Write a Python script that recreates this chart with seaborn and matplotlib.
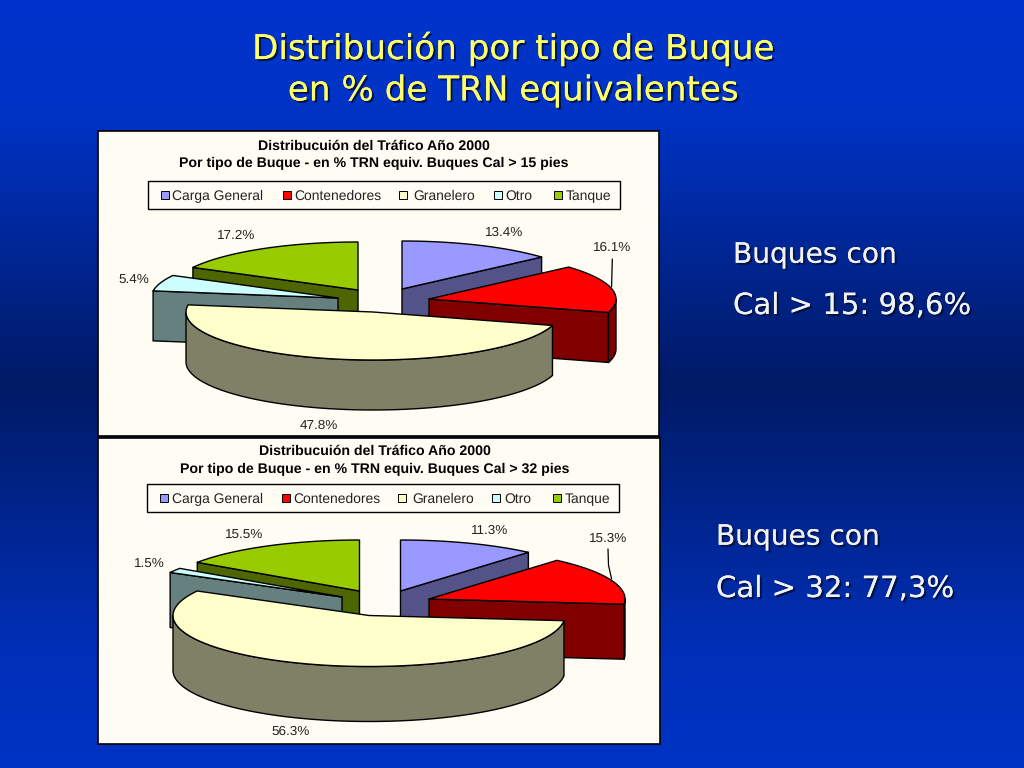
import numpy as np
import matplotlib
matplotlib.use("Agg")
import matplotlib.pyplot as plt
import matplotlib.patheffects as pe
from matplotlib.colors import LinearSegmentedColormap
from matplotlib.patches import Rectangle
import seaborn as sns

# data
categories = ["Carga General", "Contenedores", "Granelero", "Otro", "Tanque"]
values_15 = [13.4, 16.1, 47.8, 5.4, 17.2]
values_32 = [11.3, 15.3, 56.3, 1.5, 15.5]
title_15 = ["Distribucuión del Tráfico Año 2000",
            "Por tipo de Buque - en % TRN equiv. Buques Cal > 15 pies"]
title_32 = ["Distribucuión del Tráfico Año 2000",
            "Por tipo de Buque - en % TRN equiv. Buques Cal > 32 pies"]

# style
sns.set_theme(style="white")
plt.rcParams["font.family"] = ["Liberation Sans", "DejaVu Sans"]
plt.rcParams["text.hinting"] = "no_hinting"
TOP_COLORS = sns.color_palette(["#9999FF", "#FF0000", "#FFFFCC", "#CCFFFF", "#99CC00"])
SIDE_COLORS = sns.color_palette(["#53538A", "#800000", "#808066", "#668080", "#4D6600"])
PANEL_COLOR = "#FFFCF3"
DRAW_ORDER = [4, 0, 3, 1, 2]  # back slices first

fig = plt.figure(figsize=(10.24, 7.68), dpi=100)
ax = fig.add_axes([0, 0, 1, 1])
ax.set_xlim(0, 1024)
ax.set_ylim(768, 0)
ax.axis("off")

# slide background
bg = LinearSegmentedColormap.from_list(
    "slide", [(0, "#0033CC"), (0.15, "#0033C4"), (0.5, "#001A66"),
              (0.85, "#0030B8"), (1, "#0033C4")])
ax.imshow(np.linspace(0, 1, 256).reshape(-1, 1), cmap=bg, aspect="auto",
          extent=(0, 1024, 768, 0), zorder=0)


def arc(cx, cy, rx, ry, t1, t2, n=80):
    t = np.radians(np.linspace(t1, t2, n))
    return cx + rx * np.sin(t), cy - ry * np.cos(t)


def draw_pie(values, apexes, rx, ry, depth):
    # angles run clockwise from 12 o'clock, like the Excel pie
    edges = np.concatenate([[0], np.cumsum(values)]) / np.sum(values) * 360
    kw = dict(edgecolor="black", linewidth=1.0, joinstyle="round", zorder=3)
    for i in DRAW_ORDER:
        t1, t2 = edges[i], edges[i + 1]
        cx, cy = apexes[i]
        side = SIDE_COLORS[i]
        # radial cut faces that look towards the viewer
        for t, visible in ((t1, np.sin(np.radians(t1)) < -1e-6),
                           (t2, np.sin(np.radians(t2)) > 1e-6)):
            if visible:
                ex, ey = arc(cx, cy, rx, ry, t, t, 1)
                ax.fill([cx, ex[0], ex[0], cx], [cy, ey[0], ey[0] + depth, cy + depth],
                        facecolor=side, **kw)
        # outer wall, front half of the rim only
        a, b = max(t1, 90), min(t2, 270)
        if b > a:
            x, y = arc(cx, cy, rx, ry, a, b)
            ax.fill(np.r_[x, x[::-1]], np.r_[y, y[::-1] + depth], facecolor=side, **kw)
        # top
        x, y = arc(cx, cy, rx, ry, t1, t2)
        ax.fill(np.r_[cx, x], np.r_[cy, y], facecolor=TOP_COLORS[i], **kw)


def draw_panel(box, titles, title_y, values, legend_y, legend_box, swatch_x, text_x,
               apexes, rx, ry, depth, label_pos, leader):
    x0, y0, x1, y1 = box
    ax.add_patch(Rectangle((x0, y0), x1 - x0, y1 - y0, facecolor=PANEL_COLOR,
                           edgecolor="black", linewidth=1.2, zorder=1))
    xc = (x0 + x1) / 2 - 4.5
    for txt, y in zip(titles, title_y):
        ax.text(xc, y, txt, ha="center", va="center", fontsize=10.2, fontweight="bold",
                color="black", zorder=5)
    lx0, ly0, lx1, ly1 = legend_box
    ax.add_patch(Rectangle((lx0, ly0), lx1 - lx0, ly1 - ly0, facecolor=PANEL_COLOR,
                           edgecolor="black", linewidth=1.0, zorder=2))
    for name, col, sx, tx in zip(categories, TOP_COLORS, swatch_x, text_x):
        ax.add_patch(Rectangle((sx, legend_y - 4), 8, 8, facecolor=col, edgecolor="black",
                               linewidth=0.7, zorder=3))
        ax.text(tx, legend_y + 5, name, ha="left", va="baseline", fontsize=10, color="#222222", zorder=5)

    draw_pie(values, apexes, rx, ry, depth)
    for v, (px, py) in zip(values, label_pos):
        ax.text(px, py, f"{v:.1f}%", ha="center", va="center", fontsize=9.7,
                color="#222222", zorder=5)
    ax.plot(*leader, color="black", linewidth=0.9, zorder=4)


draw_panel((98, 131, 659, 436), title_15, (146, 163), values_15,
           195, (148, 181, 620, 209),
           (161, 282.5, 399, 493.5, 554), (172.5, 294.5, 413, 505, 566),
           [(402, 289), (429, 299), (373, 312), (338, 298), (358, 290)], 187, 48, 50,
           [(504, 233), (612, 248), (319, 426), (134, 280), (236, 236)],
           ([612.3, 611.6], [259, 287]))

draw_panel((98, 438, 660, 744), title_32, (451, 469), values_32,
           498, (147, 484, 618.5, 512),
           (159.5, 281.5, 398, 492, 553), (171.5, 293, 412, 504, 565),
           [(400.5, 591), (429, 599), (369, 615.5), (342, 597), (359.5, 591)], 196, 51, 55,
           [(490, 531), (608, 539), (291, 732), (149, 564), (244, 535)],
           ([608, 608.5, 611.6], [549, 565, 579]))

# slide headings
shadow = [pe.withSimplePatchShadow(offset=(1.5, -1.5), shadow_rgbFace="#001040", alpha=0.9),
          pe.Normal()]
for txt, y in (("Distribución por tipo de Buque", 49), ("en % de TRN equivalentes", 91)):
    ax.text(513, y, txt, ha="center", va="center", fontsize=24.6, color="#FFFF66",
            family="DejaVu Sans", path_effects=shadow, zorder=6)

for txt, x, y, fs in (("Buques con", 733, 255, 20.2), ("Cal > 15: 98,6%", 733, 306, 21),
                      ("Buques con", 716, 537, 20.2), ("Cal > 32: 77,3%", 716, 589, 21)):
    ax.text(x, y, txt, ha="left", va="center", fontsize=fs, color="#F2F2F2",
            family="DejaVu Sans", path_effects=shadow, zorder=6)

fig.savefig("out.png", dpi=100)
